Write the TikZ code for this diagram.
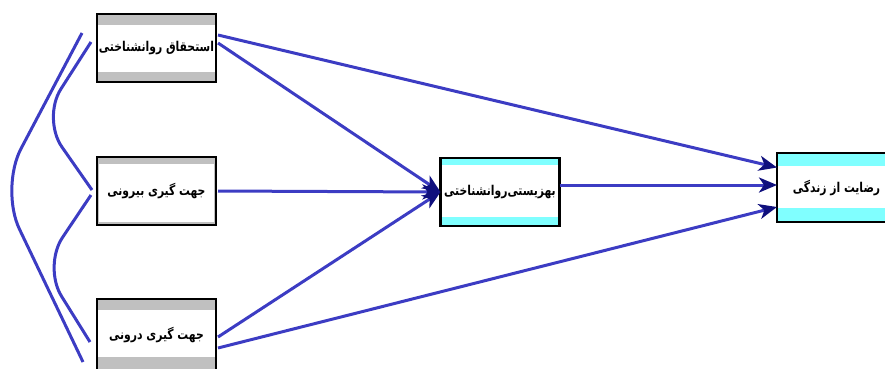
\documentclass[tikz,border=0pt]{standalone}
\usepackage{fontspec}
\newfontfamily\arabicfont[Script=Arabic, BoldFont={DejaVu Sans Bold}, FakeStretch=0.8]{DejaVu Sans}
\TeXXeTstate=1
\usetikzlibrary{positioning,calc,arrows.meta}
\definecolor{pathblue}{RGB}{60,60,195}
\definecolor{tipnavy}{RGB}{15,15,125}
\definecolor{bandgray}{RGB}{192,192,192}
\definecolor{bandcyan}{RGB}{128,255,255}
\newcommand{\fa}[1]{{\arabicfont\bfseries\beginR #1\endR}}

\begin{document}
\begin{tikzpicture}[
		x=1pt, y=-1pt
		,var/.style={draw, line width=2.5pt, minimum width=119pt, minimum height=68pt, inner sep=0pt, outer sep=0pt, font=\fontsize{13.5}{15}\selectfont}
		,bands/.style n args={4}{fill=#1, path picture={\fill[white] ([xshift=#4, yshift=-#2]path picture bounding box.north west) rectangle ([xshift=-#4, yshift=#3]path picture bounding box.south east);}}
		,link/.style={draw=pathblue, line width=3pt, -{Stealth[length=18pt, width=15pt, inset=5pt, color=tipnavy]}}
		,cov/.style={draw=pathblue, line width=3pt}
	]
		\useasboundingbox (0,0) rectangle (885,368);

		% exogenous variables
		\node[var, bands={bandgray}{11pt}{10pt}{0pt}] (entitle) at (156.5,48) {\fa{استحقاق روانشناختی}};
		\node[var, bands={bandgray}{7pt}{3pt}{2pt}, below=75pt of entitle] (extern) {\fa{جهت گیری بیرونی}};
		\node[var, minimum height=72pt, bands={bandgray}{11pt}{14pt}{0pt}, below=74pt of extern] (intern) {\fa{جهت گیری درونی}};

		% mediator and outcome
		\node[var, bands={bandcyan}{7pt}{9pt}{0pt}] (wellbeing) at (500,192) {\fa{بهزیستی‌روانشناختی}};
		\node[var, minimum height=69pt, bands={bandcyan}{13pt}{14pt}{0pt}] (life) at (836.5,187.5) {\fa{رضایت از زندگی}};

		\draw[link] ([shift={(2,-13)}]entitle.east) -- ([yshift=20pt]life.west);
		\draw[link] ([shift={(2,-5)}]entitle.east) -- (wellbeing.west);
		\draw[link] ([xshift=2pt]extern.east) -- (wellbeing.west);
		\draw[link] ([shift={(2,2)}]intern.east) -- (wellbeing.west);
		\draw[link] ([shift={(2,13)}]intern.east) -- ([yshift=-19.5pt]life.west);
		\draw[link] ([yshift=7pt]wellbeing.east) -- ([yshift=2.5pt]life.west);

		% correlations
		\draw[cov, rounded corners=45pt] ([shift={(-15,-15)}]entitle.west) -- ($(entitle.west)!.5!(intern.west)+(-97,-3)$) -- ([shift={(-14,27)}]intern.west);
		\draw[cov, rounded corners=35pt] ([shift={(-6,-6)}]entitle.west) -- ($(entitle.west)!.5!(extern.west)+(-55,-1)$) -- ([shift={(-5,-1)}]extern.west);
		\draw[cov, rounded corners=35pt] ([shift={(-6,4)}]extern.west) -- ($(extern.west)!.5!(intern.west)+(-54,3.5)$) -- ([shift={(-7,7)}]intern.west);
	\end{tikzpicture}
\end{document}
